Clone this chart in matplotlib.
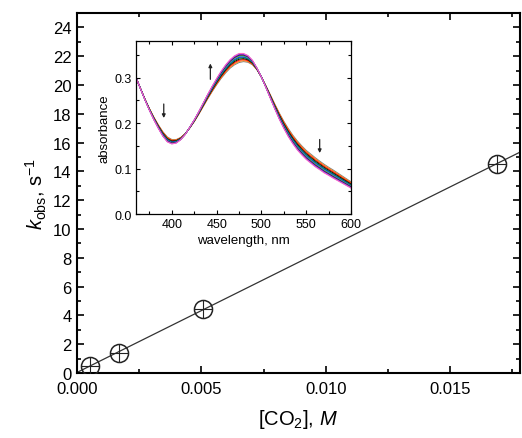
import numpy as np
import matplotlib.pyplot as plt
from matplotlib.ticker import MultipleLocator

plt.rcParams['font.family'] = ['Liberation Sans', 'DejaVu Sans']
plt.rcParams['mathtext.fontset'] = 'custom'
plt.rcParams['mathtext.rm'] = 'Liberation Sans'
plt.rcParams['mathtext.it'] = 'Liberation Sans:italic'

# --- main data: observed rate constant vs CO2 concentration ---
co2 = [0.00052, 0.00167, 0.00505, 0.0169]
k_obs = [0.51, 1.39, 4.45, 14.54]

# --- inset data: spectra recorded during the reaction ---
wavelength = [360, 365, 370, 375, 380, 385, 390, 395, 400, 405, 410, 415, 420,
              425, 430, 435, 440, 445, 450, 455, 460, 465, 470, 475, 480, 485,
              490, 495, 500, 505, 510, 515, 520, 525, 530, 535, 540, 545, 550,
              555, 560, 565, 570, 575, 580, 585, 590, 595, 600]
# middle spectrum of the series
spec_mid = [0.300, 0.276, 0.252, 0.230, 0.210, 0.192, 0.176, 0.164, 0.159,
            0.160, 0.166, 0.176, 0.190, 0.205, 0.222, 0.240, 0.258, 0.275,
            0.291, 0.306, 0.319, 0.330, 0.338, 0.343, 0.344, 0.341, 0.333,
            0.319, 0.301, 0.280, 0.258, 0.236, 0.215, 0.196, 0.179, 0.164,
            0.151, 0.140, 0.130, 0.122, 0.114, 0.107, 0.100, 0.094, 0.088,
            0.082, 0.076, 0.070, 0.064]
# total change from first to last spectrum
spec_change = [0.000, -0.001, -0.002, -0.004, -0.006, -0.008, -0.010, -0.011,
               -0.010, -0.008, -0.005, -0.002, 0.002, 0.004, 0.006, 0.008,
               0.010, 0.012, 0.014, 0.016, 0.018, 0.019, 0.020, 0.020, 0.018,
               0.015, 0.010, 0.004, 0.000, -0.004, -0.008, -0.011, -0.014,
               -0.016, -0.018, -0.019, -0.020, -0.020, -0.020, -0.020, -0.020,
               -0.019, -0.019, -0.018, -0.018, -0.017, -0.016, -0.015, -0.014]
# progress of each recorded trace between the first and last spectrum
trace_progress = [0.0, 0.12, 0.25, 0.37, 0.48, 0.58, 0.67, 0.75, 0.82, 0.88, 0.94, 1.0]
trace_colors = ['#808080', '#ff8000', '#ff0000', '#000000', '#00a000', '#0000ff',
                '#00b0b0', '#a0a000', '#000080', '#800080', '#8060ff', '#ff60c0']

fig = plt.figure(figsize=(5.22, 4.39), dpi=100)
ax = fig.add_axes([0.1475, 0.148, 0.848, 0.820])

# fitted straight line through the points
slope, intercept = np.polyfit(co2, k_obs, 1)
xfit = np.array([0.0, 0.0178])
ax.plot(xfit, slope * xfit + intercept, color='#333333', lw=0.9, zorder=2)
ax.plot(co2, k_obs, 'o', ms=13, mfc='none', mec='#222222', mew=1.1, zorder=3)
ax.plot(co2, k_obs, '+', ms=13, mec='#222222', mew=0.8, zorder=3)

ax.set_xlim(0, 0.0178)
ax.set_ylim(0, 25)
ax.xaxis.set_major_locator(MultipleLocator(0.005))
ax.xaxis.set_minor_locator(MultipleLocator(0.0025))
ax.yaxis.set_major_locator(MultipleLocator(2))
ax.yaxis.set_minor_locator(MultipleLocator(1))
ax.set_xticks([0.0, 0.005, 0.010, 0.015])
ax.set_xticklabels(['0.000', '0.005', '0.010', '0.015'])
ax.tick_params(which='both', direction='in', top=True, right=True,
               labelsize=12, width=1.2)
ax.tick_params(axis='x', pad=6)
ax.tick_params(axis='y', pad=4)
ax.tick_params(which='major', length=5)
ax.tick_params(which='minor', length=3)
for s in ax.spines.values():
    s.set_linewidth(1.5)
ax.set_xlabel('[CO$_2$], $M$', fontsize=14.5, labelpad=8)
ax.set_ylabel('$k_{\\rm obs}$, s$^{-1}$', fontsize=14.5, labelpad=3)

# --- inset ---
axi = fig.add_axes([0.2605, 0.510, 0.412, 0.394])
mid = np.array(spec_mid)
change = np.array(spec_change)
for p, c in zip(trace_progress, trace_colors):
    axi.plot(wavelength, mid + (p - 0.5) * change, color=c, lw=0.7)

for x0, y_from, y_to in [(391, 0.248, 0.205), (443, 0.290, 0.337), (565, 0.170, 0.128)]:
    axi.annotate('', xy=(x0, y_to), xytext=(x0, y_from),
                 arrowprops=dict(arrowstyle='-|>', color='#222222', lw=0.9,
                                 mutation_scale=5))

axi.set_xlim(360, 600)
axi.set_ylim(0, 0.38)
axi.xaxis.set_major_locator(MultipleLocator(50))
axi.xaxis.set_minor_locator(MultipleLocator(25))
axi.yaxis.set_major_locator(MultipleLocator(0.1))
axi.yaxis.set_minor_locator(MultipleLocator(0.05))
axi.tick_params(which='both', direction='in', top=True, right=True,
                labelsize=9, width=0.8, pad=3)
axi.tick_params(which='major', length=3)
axi.tick_params(which='minor', length=2)
for s in axi.spines.values():
    s.set_linewidth(0.9)
axi.set_xlabel('wavelength, nm', fontsize=9.5, labelpad=3)
axi.set_ylabel('absorbance', fontsize=9.5, labelpad=3)

fig.savefig('out.png', dpi=100)
